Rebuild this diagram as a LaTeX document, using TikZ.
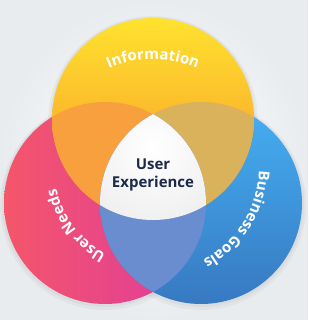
\documentclass[tikz,border=0pt]{standalone}
\usepackage{fontspec}
\setmainfont{Open Sans}
\usetikzlibrary{decorations.text, positioning}

\definecolor{bgEdge}{HTML}{E9ECEF}
\definecolor{infoTop}{HTML}{FFE22E}
\definecolor{infoBot}{HTML}{F7902A}
\definecolor{needsL}{HTML}{F4566A}
\definecolor{needsR}{HTML}{DE3AA0}
\definecolor{goalsTop}{HTML}{45B0F2}
\definecolor{goalsBot}{HTML}{3779C2}
\definecolor{ovInfoNeeds}{HTML}{F7A03D}
\definecolor{ovInfoGoals}{HTML}{DAB25C}
\definecolor{ovNeedsGoals}{HTML}{6A8DCF}
\definecolor{uxText}{HTML}{1B2A4C}

\newcommand{\lblfont}{\bfseries\fontsize{15}{18}\selectfont}

\begin{document}
\begin{tikzpicture}[
    x=1pt, y=1pt,
    arclbl/.style={decorate, decoration={text along path, text align=center,
                   text color=white, text={|\lblfont|#1}}},
]
\useasboundingbox (0,0) rectangle (308,320);
\shade[inner color=white, outer color=bgEdge] (0,0) rectangle (308,320);

% circle centres, radius 101
\coordinate (info)  at (153,201);
\coordinate (needs) at (105,117);
\coordinate (goals) at (201,117);
\coordinate (cen)   at (153,153);

% soft shadows
\foreach \c in {info,needs,goals}{
  \fill[black, opacity=0.03] ([yshift=-2]\c) circle[radius=105];
  \fill[black, opacity=0.03] ([yshift=-1]\c) circle[radius=103];
}

% the three sets
\shade[left color=needsL, right color=needsR] (needs) circle[radius=101];
\shade[top color=goalsTop, bottom color=goalsBot] (goals) circle[radius=101];
\shade[top color=infoTop, bottom color=infoBot] (info) circle[radius=101];

% pairwise overlaps
\begin{scope}
  \clip (info) circle[radius=101];
  \fill[ovInfoNeeds] (needs) circle[radius=101];
  \fill[ovInfoGoals] (goals) circle[radius=101];
\end{scope}
\begin{scope}
  \clip (needs) circle[radius=101];
  \fill[ovNeedsGoals] (goals) circle[radius=101];
\end{scope}
% centre, all three
\begin{scope}
  \clip (info) circle[radius=101];
  \clip (needs) circle[radius=101];
  \clip (goals) circle[radius=101];
  \shade[inner color=white, outer color=black!12] (153,172) circle[radius=150];
\end{scope}

\node[font=\lblfont, text=uxText, align=center] (ux) at (153,145)
  {User\\Experience};

% curved labels
\path[arclbl=Information] ([shift={(130:108)}]cen) arc[start angle=130, end angle=50, radius=108];
\path[arclbl=User Needs] ([shift={(252:99)}]cen) arc[start angle=252, end angle=182, radius=99];
\path[arclbl=Business Goals] ([shift={(13:106)}]cen) arc[start angle=13, end angle=-77, radius=106];
\end{tikzpicture}
\end{document}
